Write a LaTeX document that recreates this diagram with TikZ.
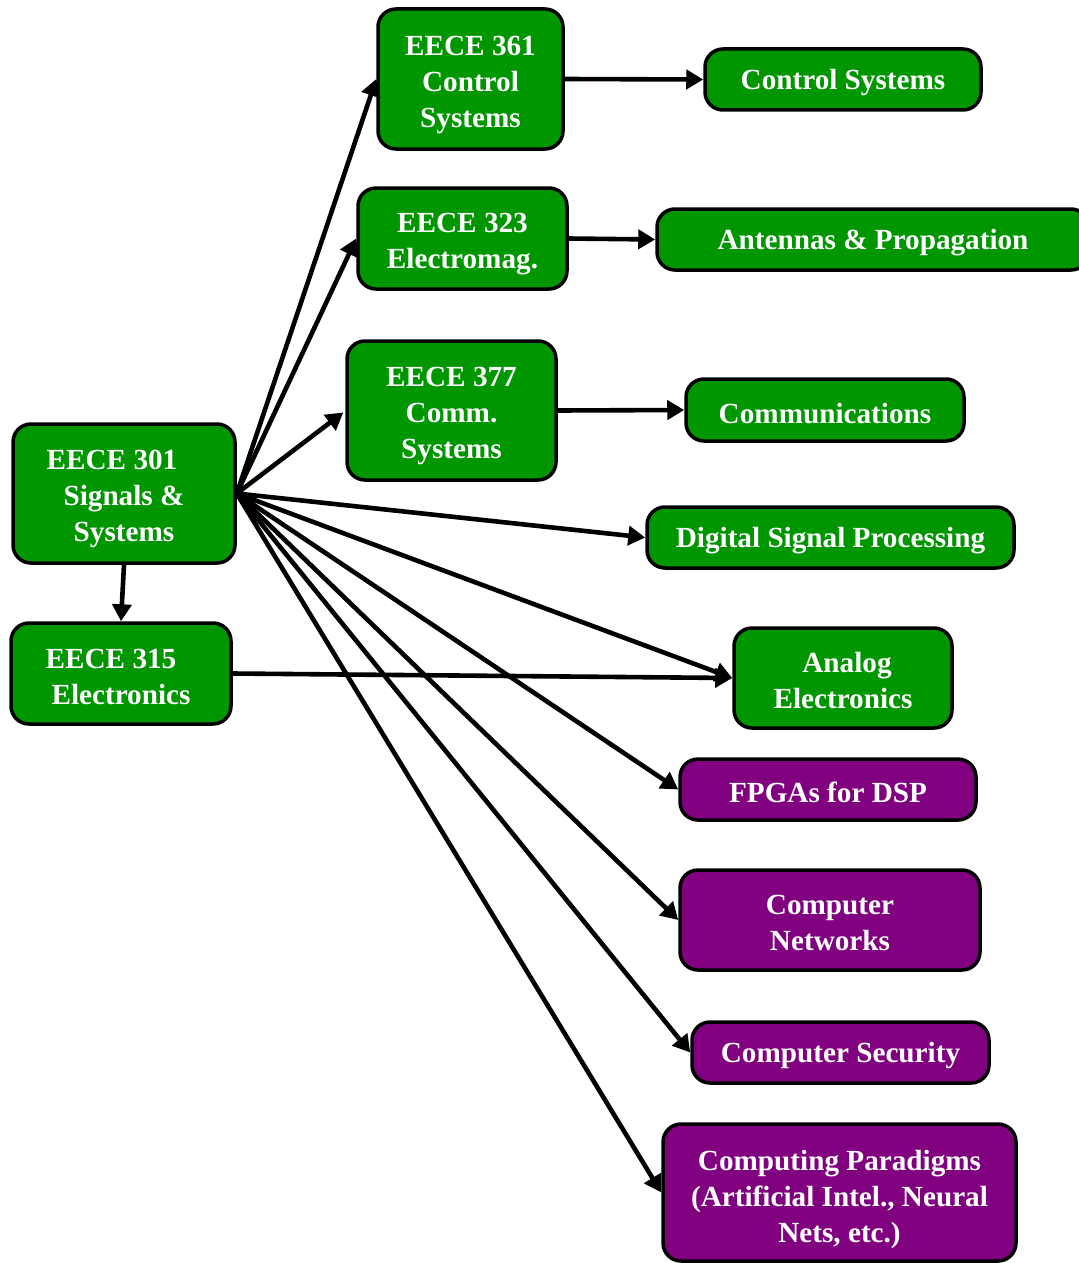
\documentclass[tikz,border=0pt]{standalone}
\usepackage{fontspec}
\setmainfont{Liberation Serif}
\usetikzlibrary{arrows.meta}

\definecolor{coursegreen}{RGB}{0,150,0}
\definecolor{coursepurple}{RGB}{128,0,128}

% raise the first line of a box so its text sits lower
\newcommand{\droptext}[1]{\rule{0pt}{#1}}

\begin{document}
\begin{tikzpicture}[x=0.5pt, y=-0.5pt,
  box/.style={draw=black, line width=1.75pt, rounded corners=9pt, text=white,
    font=\fontsize{14.6}{18}\selectfont\bfseries, align=center, inner sep=0pt,
    execute at begin node={\rule{0pt}{13.5pt}}},
  gbox/.style={box, fill=coursegreen},
  pbox/.style={box, fill=coursepurple},
  link/.style={line width=2.3pt, -{Triangle[length=8.5pt, width=9.5pt]}}]

 \useasboundingbox (0,0) rectangle (1079,1263);

 %%%  nodes

 % core courses
 \node [gbox, minimum width=111pt, minimum height=69.5pt] (s301) at (124,493.5) {\droptext{15.5pt}EECE 301\hspace*{12pt}\\ Signals \&\\ Systems};
 \node [gbox, minimum width=110pt, minimum height=50.5pt] (e315) at (121,673.5) {\droptext{13pt}EECE 315\hspace*{10pt}\\ Electronics};
 \node [gbox, minimum width=92.5pt, minimum height=70pt] (c361) at (470.5,79) {\droptext{15.5pt}EECE 361\\ Control\\ Systems};
 \node [gbox, minimum width=104.5pt, minimum height=50.5pt] (e323) at (462.5,238.5) {\droptext{15.5pt}EECE 323\\ Electromag.};
 \node [gbox, minimum width=104.5pt, minimum height=69.5pt] (c377) at (451.5,410.5) {\droptext{15.5pt}EECE 377\\ Comm.\\ Systems};

 % areas
 \node [gbox, minimum width=138pt, minimum height=30.5pt] (ctrl) at (843,79.5) {Control Systems};
 \node [gbox, minimum width=216pt, minimum height=30.5pt] (ant) at (873,239.5) {Antennas \& Propagation};
 \node [gbox, minimum width=139pt, minimum height=31pt] (comm) at (825,410) {Communications};
 \node [gbox, minimum width=183.5pt, minimum height=30.5pt] (dsp) at (830.5,537.5) {Digital Signal Processing};
 \node [gbox, minimum width=109pt, minimum height=50pt] (analog) at (843,678) {\droptext{13pt}\hspace*{4pt}Analog\\ Electronics};
 \node [pbox, minimum width=148pt, minimum height=30.5pt] (fpga) at (828,789.5) {FPGAs for DSP};
 \node [pbox, minimum width=150pt, minimum height=50pt] (net) at (830,920) {\droptext{13pt}Computer\\ Networks};
 \node [pbox, minimum width=148.5pt, minimum height=30.5pt] (sec) at (840.5,1052.5) {Computer Security};
 \node [pbox, minimum width=176.5pt, minimum height=68.5pt] (para) at (839.5,1192.5) {\droptext{17pt}Computing Paradigms\\ (Artificial Intel., Neural\\ Nets, etc.)};

 %%%  arrows

 \draw [link] (s301.south) to (e315.north);
 \draw [link] (s301.east) to (c361.west);
 \draw [link] (s301.east) to (e323.west);
 \draw [link] (s301.east) to ([xshift=-1pt,yshift=-1pt]c377.west);
 \draw [link] (s301.east) to (dsp.west);
 \draw [link] (s301.east) to (analog.west);
 \draw [link] (s301.east) to (fpga.west);
 \draw [link] (s301.east) to (net.west);
 \draw [link] (s301.east) to (sec.west);
 \draw [link] (s301.east) to (para.west);

 \draw [link] (e315.east) to (analog.west);
 \draw [link] (c361.east) to (ctrl.west);
 \draw [link] (e323.east) to (ant.west);
 \draw [link] (c377.east) to (comm.west);

\end{tikzpicture}
\end{document}
